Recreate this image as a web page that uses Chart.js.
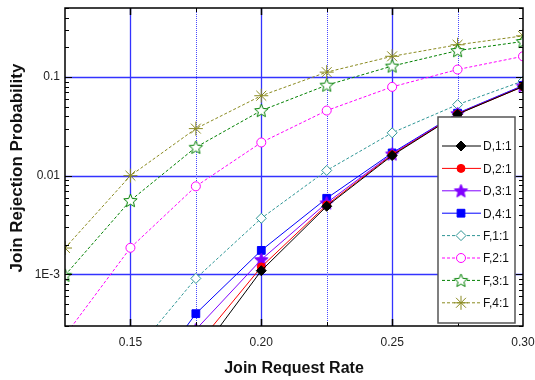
<!DOCTYPE html>
<html>
<head>
<meta charset="utf-8">
<script src="https://cdn.jsdelivr.net/npm/chart.js@4.4.0/dist/chart.umd.min.js"></script>
<style>
html, body { margin: 0; padding: 0; background: #fff; }
#wrap { width: 535px; height: 380px; }
</style>
</head>
<body>
<div id="wrap"><canvas id="myChart" width="535" height="380"></canvas></div>
<script>
// join request rates (x) and rejection probabilities per scheme
var rates = [0.125, 0.15, 0.175, 0.20, 0.225, 0.25, 0.275, 0.30];
var d11 = [null, 1.0e-5, 1.4e-4, 1.09e-3, 4.9e-3, 0.0160, 0.0420, 0.080];
var d21 = [null, 1.5e-5, 1.86e-4, 1.19e-3, 5.05e-3, 0.0163, 0.0422, 0.080];
var d31 = [null, 2.5e-5, 2.76e-4, 1.41e-3, 5.3e-3, 0.0166, 0.0425, 0.081];
var d41 = [null, 5.0e-5, 4.0e-4, 1.75e-3, 5.9e-3, 0.0170, 0.0430, 0.082];
var f11 = [null, 1.45e-4, 9.1e-4, 3.7e-3, 0.0113, 0.0272, 0.0525, 0.091];
var f21 = [2.4e-4, 1.86e-3, 7.8e-3, 0.0217, 0.0457, 0.0794, 0.119, 0.162];
var f31 = [9.8e-4, 5.6e-3, 0.0194, 0.0457, 0.0826, 0.129, 0.185, 0.229];
var f41 = [1.85e-3, 0.0100, 0.0300, 0.0646, 0.112, 0.162, 0.212, 0.261];
var names = ['D,1:1', 'D,2:1', 'D,3:1', 'D,4:1', 'F,1:1', 'F,2:1', 'F,3:1', 'F,4:1'];
var xLabels = ['0.15', '0.20', '0.25', '0.30'];
var yLabels = ['1E-3', '0.01', '0.1'];

var FONT = "'Liberation Sans', Arial, sans-serif";

function makeStar(r, fill, stroke) {
	var c = document.createElement('canvas');
	var s = Math.ceil(r * 2 + 3);
	c.width = s; c.height = s;
	var g = c.getContext('2d');
	var cx = s / 2, cy = s / 2 + 0.5;
	g.beginPath();
	for (var i = 0; i < 10; i++) {
		var rr = i % 2 ? r * 0.45 : r;
		var a = -Math.PI / 2 + i * Math.PI / 5;
		g.lineTo(cx + rr * Math.cos(a), cy + rr * Math.sin(a));
	}
	g.closePath();
	g.fillStyle = fill; g.fill();
	g.strokeStyle = stroke; g.lineWidth = 1; g.stroke();
	return c;
}

function pts(vals) {
	return rates.map(function(r, i) { return { x: r, y: vals[i] }; });
}

var styles = [
	{ color: '#000000', bg: '#000000', ps: 'rectRot', r: 5, dash: [] },
	{ color: '#ff0000', bg: '#ff0000', ps: 'circle', r: 4, dash: [] },
	{ color: '#8000ff', bg: '#8000ff', ps: makeStar(7, '#8000ff', '#8000ff'), r: 6, dash: [] },
	{ color: '#0000ff', bg: '#0000ff', ps: 'rect', r: 5.5, dash: [] },
	{ color: '#2f9696', bg: '#ffffff', ps: 'rectRot', r: 5, dash: [3, 2] },
	{ color: '#ff00ff', bg: '#ffffff', ps: 'circle', r: 4.5, dash: [3, 2] },
	{ color: '#008000', bg: '#ffffff', ps: makeStar(7, '#ffffff', '#008000'), r: 6, dash: [3, 2] },
	{ color: '#8a8a20', bg: '#8a8a20', ps: 'star', r: 7, dash: [3, 2] }
];
var allVals = [d11, d21, d31, d41, f11, f21, f31, f41];

var datasets = allVals.map(function(v, i) {
	var st = styles[i];
	return {
		label: names[i],
		data: pts(v),
		borderColor: st.color,
		backgroundColor: st.bg,
		borderWidth: 1,
		borderDash: st.dash,
		pointStyle: st.ps,
		pointRadius: st.r,
		pointBorderColor: st.color,
		pointBackgroundColor: st.bg,
		pointBorderWidth: 1,
		tension: 0
	};
});

var frame = {
	id: 'frame',
	beforeDatasetsDraw: function(chart) {
		var ctx = chart.ctx, a = chart.chartArea, xs = chart.scales.x, ys = chart.scales.y;
		ctx.save();
		ctx.strokeStyle = '#3333ff';
		ctx.lineWidth = 1.3;
		[0.001, 0.01, 0.1].forEach(function(v) {
			var y = Math.round(ys.getPixelForValue(v)) + 0.5;
			ctx.beginPath(); ctx.moveTo(a.left, y); ctx.lineTo(a.right, y); ctx.stroke();
		});
		[0.15, 0.20, 0.25].forEach(function(v) {
			var x = Math.round(xs.getPixelForValue(v)) + 0.5;
			ctx.beginPath(); ctx.moveTo(x, a.top); ctx.lineTo(x, a.bottom); ctx.stroke();
		});
		ctx.strokeStyle = '#4a4aff';
		ctx.lineWidth = 1;
		ctx.setLineDash([1, 1]);
		[0.175, 0.225, 0.275].forEach(function(v) {
			var x = Math.round(xs.getPixelForValue(v)) + 0.5;
			ctx.beginPath(); ctx.moveTo(x, a.top); ctx.lineTo(x, a.bottom); ctx.stroke();
		});
		ctx.restore();
	},
	afterDatasetsDraw: function(chart) {
		var ctx = chart.ctx, a = chart.chartArea, xs = chart.scales.x, ys = chart.scales.y;
		ctx.save();
		ctx.strokeStyle = '#000';
		ctx.lineWidth = 1.5;
		ctx.strokeRect(a.left, a.top, a.right - a.left, a.bottom - a.top);
		// y ticks, inside on both sides
		ctx.lineWidth = 1;
		for (var n = -4; n <= 0; n++) {
			for (var k = 1; k <= 9; k++) {
				var v = k * Math.pow(10, n);
				if (v < ys.min || v > ys.max) continue;
				var y = Math.round(ys.getPixelForValue(v)) + 0.5;
				var len = k === 1 ? 7 : 4;
				ctx.beginPath();
				ctx.moveTo(a.left, y); ctx.lineTo(a.left + len, y);
				ctx.moveTo(a.right, y); ctx.lineTo(a.right - len, y);
				ctx.stroke();
			}
		}
		// x ticks
		ctx.lineWidth = 1.5;
		[0.15, 0.20, 0.25].forEach(function(v) {
			var x = Math.round(xs.getPixelForValue(v)) + 0.5;
			ctx.beginPath();
			ctx.moveTo(x, a.bottom); ctx.lineTo(x, a.bottom - 7);
			ctx.moveTo(x, a.top); ctx.lineTo(x, a.top + 7);
			ctx.stroke();
		});
		ctx.lineWidth = 1;
		[0.175, 0.225, 0.275].forEach(function(v) {
			var x = Math.round(xs.getPixelForValue(v)) + 0.5;
			ctx.beginPath();
			ctx.moveTo(x, a.bottom); ctx.lineTo(x, a.bottom - 4);
			ctx.moveTo(x, a.top); ctx.lineTo(x, a.top + 4);
			ctx.stroke();
		});

		// legend box
		var bx = 438, by = 117, bw = 77, bh = 206;
		ctx.fillStyle = '#fff';
		ctx.fillRect(bx, by, bw, bh);
		ctx.strokeStyle = '#555';
		ctx.lineWidth = 1.5;
		ctx.strokeRect(bx, by, bw, bh);
		ctx.font = '12px ' + FONT;
		ctx.textBaseline = 'middle';
		ctx.textAlign = 'left';
		chart.data.datasets.forEach(function(ds, i) {
			var y = 146 + i * 22.4;
			ctx.save();
			ctx.strokeStyle = ds.borderColor;
			ctx.lineWidth = 1;
			ctx.setLineDash(ds.borderDash);
			ctx.beginPath(); ctx.moveTo(442, y); ctx.lineTo(481, y); ctx.stroke();
			ctx.setLineDash([]);
			ctx.fillStyle = ds.pointBackgroundColor;
			ctx.strokeStyle = ds.pointBorderColor;
			Chart.helpers.drawPoint(ctx, { pointStyle: ds.pointStyle, radius: ds.pointRadius, borderWidth: 1, rotation: 0 }, 461, y);
			ctx.restore();
			ctx.fillStyle = '#111';
			ctx.fillText(ds.label, 483, y + 1);
		});
		ctx.restore();
	},
	afterDraw: function(chart) {
		var ctx = chart.ctx, a = chart.chartArea;
		ctx.save();
		ctx.fillStyle = '#111';
		ctx.textAlign = 'center';
		ctx.textBaseline = 'middle';
		ctx.font = 'bold 16px ' + FONT;
		ctx.fillText('Join Request Rate', (a.left + a.right) / 2, 369);
		ctx.translate(17, 168);
		ctx.rotate(-Math.PI / 2);
		ctx.font = 'bold 17px ' + FONT;
		ctx.fillText('Join Rejection Probability', 0, 0);
		ctx.restore();
	}
};

var ctx = document.getElementById('myChart').getContext('2d');
var chart = new Chart(ctx, {
	type: 'line',
	data: { datasets: datasets },
	options: {
		responsive: false,
		animation: false,
		layout: { padding: { top: 7, right: 12, left: 0, bottom: 0 } },
		plugins: {
			legend: { display: false },
			tooltip: { enabled: false }
		},
		scales: {
			x: {
				type: 'linear',
				min: 0.125,
				max: 0.30,
				grid: { display: false, drawTicks: false },
				border: { display: false },
				afterFit: function(s) {
					s.height = 54;
					s.paddingLeft = 0; s.paddingRight = 0;
				},
				ticks: {
					stepSize: 0.025,
					autoSkip: false,
					maxRotation: 0,
					padding: 9,
					color: '#222',
					font: { family: FONT, size: 12 },
					callback: function(v) {
						var i = Math.round((v - 0.15) / 0.05);
						if (Math.abs(v - (0.15 + i * 0.05)) < 1e-6 && i >= 0) return xLabels[i];
						return '';
					}
				}
			},
			y: {
				type: 'logarithmic',
				min: 3.3e-4,
				max: 0.5,
				grid: { display: false, drawTicks: false },
				border: { display: false },
				afterFit: function(s) {
					s.width = 65;
					s.paddingTop = 0; s.paddingBottom = 0;
				},
				ticks: {
					autoSkip: false,
					padding: 5,
					color: '#222',
					font: { family: FONT, size: 12 },
					callback: function(v) {
						var l = Math.log10(v);
						var i = Math.round(l) + 3;
						if (Math.abs(l - Math.round(l)) < 1e-6 && i >= 0 && i < yLabels.length) return yLabels[i];
						return '';
					}
				}
			}
		}
	},
	plugins: [frame]
});
</script>
</body>
</html>
